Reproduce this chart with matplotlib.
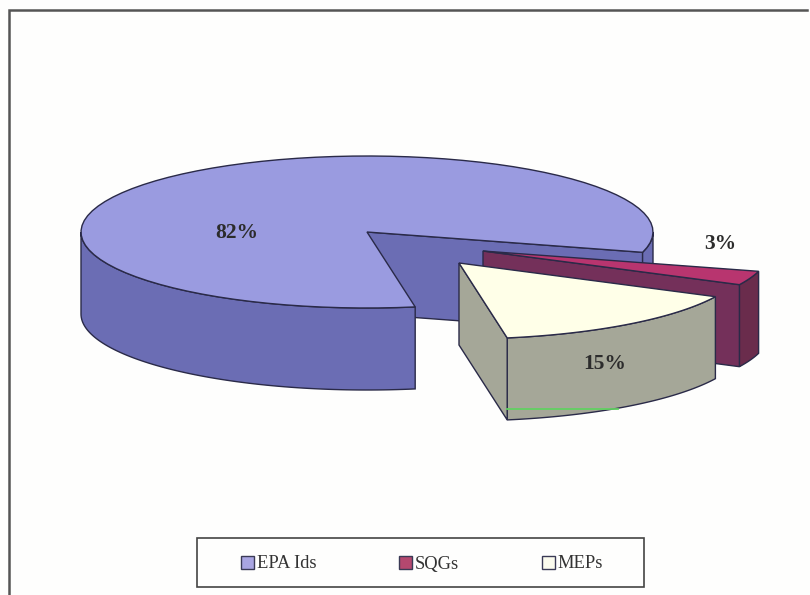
import numpy as np
import matplotlib
matplotlib.use("Agg")
import matplotlib.pyplot as plt
from matplotlib.patches import Polygon, Patch, Rectangle

categories = ["EPA Ids", "SQGs", "MEPs"]
shares = [82, 3, 15]
share_labels = ["82%", "3%", "15%"]

TOP = ["#9a9be0", "#b8356f", "#ffffe8"]
WALL = ["#6b6db4", "#74305a", "#a5a798"]
RIM = ["#6b6db4", "#6a2c4c", "#a5a798"]
EDGE = "#2a2a48"
LEG = ["#a9a5e2", "#b5486f", "#fbfbee"]

CX, CY, RX, RY, DEPTH = 367, 232, 286, 76, 82
START = -15.5

fig = plt.figure(figsize=(8.1, 5.95), dpi=100, facecolor="#fefefd")
ax = fig.add_axes([0, 0, 1, 1])
ax.set_xlim(0, 810)
ax.set_ylim(595, 0)
ax.axis("off")

# frame: only the left and top lines survive in the scan
ax.plot([9, 9, 807], [595, 10, 10], color="#555555", lw=1.8, solid_joinstyle="miter")


def rim(a0, a1, ox, oy, d=0):
    t = np.radians(np.linspace(a0, a1, 80))
    return np.column_stack([CX + ox + RX * np.cos(t), CY + oy - RY * np.sin(t) + d])


def wall(a0, a1, ox, oy, color, z):
    upper = rim(a0, a1, ox, oy)
    bottom = rim(a0, a1, ox, oy, DEPTH)[::-1]
    ax.add_patch(Polygon(np.vstack([upper, bottom]), closed=True, fc=color, ec=EDGE, lw=1.0, zorder=z))


def radial(a, ox, oy, color, z):
    c = np.array([CX + ox, CY + oy])
    p = rim(a, a, ox, oy)[0]
    pts = [c, p, p + [0, DEPTH], c + [0, DEPTH]]
    ax.add_patch(Polygon(pts, closed=True, fc=color, ec=EDGE, lw=1.0, zorder=z))


def top(a0, a1, ox, oy, color, z):
    pts = np.vstack([[CX + ox, CY + oy], rim(a0, a1, ox, oy)])
    ax.add_patch(Polygon(pts, closed=True, fc=color, ec=EDGE, lw=1.0, zorder=z))


spans = [s / sum(shares) * 360 for s in shares]

# EPA Ids: counter-clockwise from the start angle
a0, a1 = START, START + spans[0]
radial(a0, 0, 0, WALL[0], 1)
wall(a0, 0, 0, 0, RIM[0], 2)
wall(180, a1, 0, 0, RIM[0], 2)
top(a0, a1, 0, 0, TOP[0], 3)

# SQGs: clockwise from the start angle, pulled out
s1 = START - spans[1]
ox, oy = 116, 19
wall(s1, START, ox, oy, RIM[1], 4)
radial(s1, ox, oy, WALL[1], 4)
top(s1, START, ox, oy, TOP[1], 5)

# MEPs
m1 = s1 - spans[2]
ox, oy = 92, 31
wall(m1, s1, ox, oy, RIM[2], 6)
radial(m1, ox, oy, WALL[2], 6)
top(m1, s1, ox, oy, TOP[2], 7)
glow = rim(m1, m1 + 24, ox, oy, DEPTH - 11)
ax.plot(glow[:, 0], np.full(len(glow), glow[0, 1]), color="#62d062", lw=1.3, zorder=8)

font = ["Liberation Serif", "DejaVu Serif"]
for label, (x, y) in zip(share_labels, [(237, 233), (720, 244), (605, 364)]):
    ax.text(x, y, label, family=font, fontsize=15.5, fontweight="bold", color="#2c2c2c",
            ha="center", va="center", zorder=10)

ax.add_patch(Rectangle((197, 538), 447, 49, fc="#fefefd", ec="#444444", lw=1.2, zorder=11))
handles = [Patch(fc=c, ec="#3a3a55", lw=1.0) for c in LEG]
leg = ax.legend(handles, categories, ncol=3, loc="center",
                bbox_to_anchor=(422, 564), bbox_transform=ax.transData,
                prop={"family": font, "size": 13.3}, frameon=False,
                handlelength=0.7, handleheight=0.7, handletextpad=0.15,
                columnspacing=4.5, borderpad=0, labelcolor="#333333")
leg.set_zorder(12)

fig.savefig("out.png", dpi=100, facecolor=fig.get_facecolor())
